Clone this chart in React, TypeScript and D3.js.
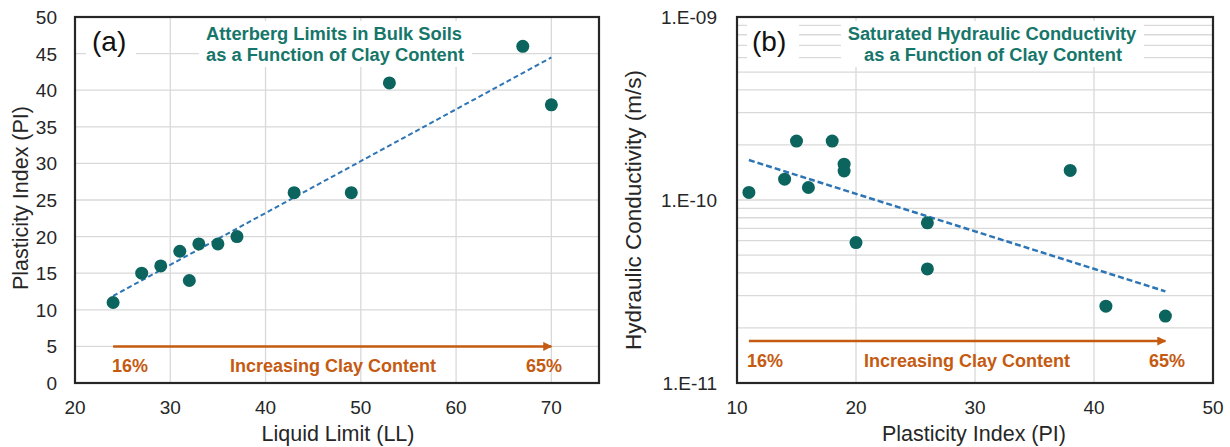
import React from "react";
import * as d3 from "d3";

// panel (a): Atterberg limits
const liquidLimit = [24, 27, 29, 31, 32, 33, 35, 37, 43, 49, 53, 67, 70];
const plasticityA = [11, 15, 16, 18, 14, 19, 19, 20, 26, 26, 41, 46, 38];
const xTicksA = [20, 30, 40, 50, 60, 70];
const yTicksA = [0, 5, 10, 15, 20, 25, 30, 35, 40, 45, 50];

// panel (b): hydraulic conductivity
const plasticityB = [11, 14, 15, 16, 18, 19, 19, 20, 26, 26, 38, 41, 46];
const conductivity = [
  1.1e-10, 1.3e-10, 2.1e-10, 1.17e-10, 2.1e-10, 1.57e-10, 1.44e-10,
  5.85e-11, 7.5e-11, 4.2e-11, 1.45e-10, 2.63e-11, 2.32e-11,
];
const xTicksB = [10, 20, 30, 40, 50];
const yTicksB = [1e-11, 1e-10, 1e-9];
const yTickLabelsB = ["1.E-11", "1.E-10", "1.E-09"];

const clayLow = "16%";
const clayHigh = "65%";

const DOT = "#0b645d";
const TEAL = "#16766a";
const ORANGE = "#c55a11";
const TREND = "#2e75b6";
const GRID = "#d9d9d9";
const FONT = "'Liberation Sans', Arial, sans-serif";

// least squares fit, returns [slope, intercept]
const fit = (xs: number[], ys: number[]) => {
  const mx = d3.mean(xs)!;
  const my = d3.mean(ys)!;
  let sxy = 0, sxx = 0;
  xs.forEach((x, i) => {
    sxy += (x - mx) * (ys[i] - my);
    sxx += (x - mx) * (x - mx);
  });
  const b = sxy / sxx;
  return [b, my - b * mx];
};

const App = () => {
  const xA = d3.scaleLinear().domain([20, 75]).range([75, 599]);
  const yA = d3.scaleLinear().domain([0, 50]).range([383, 17]);
  const xB = d3.scaleLinear().domain([10, 50]).range([737, 1213]);
  const yB = d3.scaleLog().domain([1e-11, 1e-9]).range([383, 17]);

  const [sa, ia] = fit(liquidLimit, plasticityA);
  const xa0 = d3.min(liquidLimit)!, xa1 = d3.max(liquidLimit)!;
  const [sb, ib] = fit(plasticityB, conductivity.map(Math.log10));
  const xb0 = d3.min(plasticityB)!, xb1 = d3.max(plasticityB)!;

  const minorB: number[] = [];
  [1e-11, 1e-10].forEach(d => {
    for (let k = 2; k <= 9; k++) minorB.push(d * k);
  });
  minorB.push(1e-10);

  const tick = { fontFamily: FONT, fontSize: 19, fill: "#262626" };
  const axisT = { fontFamily: FONT, fontSize: 21.5, fill: "#262626" };
  const note = { fontFamily: FONT, fontSize: 18, fontWeight: 700, fill: ORANGE };
  const title = { fontFamily: FONT, fontSize: 18.3, fontWeight: 700, fill: TEAL };
  const panel = { fontFamily: FONT, fontSize: 28, fill: "#111" };

  return (
    <svg width={1230} height={447} style={{ position: "absolute", left: 0, top: 0, background: "#fff" }}>
      <defs>
        <marker id="arr" viewBox="0 0 10 10" refX="9" refY="5" markerWidth="3.6" markerHeight="3.6" orient="auto">
          <path d="M0,0 L10,5 L0,10 z" fill={ORANGE} />
        </marker>
      </defs>

      {/* ---------- panel (a) ---------- */}
      <g>
        {xTicksA.slice(1).map(t => (
          <line key={"gx" + t} x1={xA(t)} x2={xA(t)} y1={yA(50)} y2={yA(0)} stroke={GRID} strokeWidth={1.3} />
        ))}
        {yTicksA.slice(1, -1).map(t => (
          <line key={"gy" + t} x1={xA(20)} x2={xA(75)} y1={yA(t)} y2={yA(t)} stroke={GRID} strokeWidth={1.3} />
        ))}
        <rect x={86} y={24} width={50} height={40} fill="#fff" />
        <rect x={199} y={21} width={273} height={46} fill="#fff" />
        <rect x={xA(20)} y={yA(50)} width={xA(75) - xA(20)} height={yA(0) - yA(50)} fill="none" stroke="#262626" strokeWidth={2.2} />

        <line x1={xA(xa0)} y1={yA(sa * xa0 + ia)} x2={xA(xa1)} y2={yA(sa * xa1 + ia)}
          stroke={TREND} strokeWidth={2} strokeDasharray="5,3" />
        {liquidLimit.map((v, i) => (
          <circle key={"a" + i} cx={xA(v)} cy={yA(plasticityA[i])} r={6.5} fill={DOT} />
        ))}

        <line x1={xA(24)} x2={xA(70)} y1={yA(5)} y2={yA(5)} stroke={ORANGE} strokeWidth={2.5} markerEnd="url(#arr)" />
        <text x={112} y={372} style={note}>{clayLow}</text>
        <text x={230} y={372} style={note}>Increasing Clay Content</text>
        <text x={562} y={372} textAnchor="end" style={note}>{clayHigh}</text>

        <text x={92} y={51} style={panel}>(a)</text>
        <text x={206} y={40} style={title}>Atterberg Limits in Bulk Soils</text>
        <text x={206} y={61} style={title}>as a Function of Clay Content</text>

        {yTicksA.map(t => (
          <text key={"ya" + t} x={57} y={yA(t) + 7} textAnchor="end" style={tick}>{t}</text>
        ))}
        {xTicksA.map(t => (
          <text key={"xa" + t} x={xA(t)} y={414} textAnchor="middle" style={tick}>{t}</text>
        ))}
        <text x={338} y={441} textAnchor="middle" style={axisT}>Liquid Limit (LL)</text>
        <text transform="translate(28,198) rotate(-90)" textAnchor="middle" style={axisT}>
          Plasticity Index (PI)
        </text>
      </g>

      {/* ---------- panel (b) ---------- */}
      <g>
        {xTicksB.slice(1, -1).map(t => (
          <line key={"gx" + t} x1={xB(t)} x2={xB(t)} y1={yB(1e-9)} y2={yB(1e-11)} stroke={GRID} strokeWidth={1.3} />
        ))}
        {minorB.map((t, i) => (
          <line key={"gy" + i} x1={xB(10)} x2={xB(50)} y1={yB(t)} y2={yB(t)} stroke={GRID} strokeWidth={1.3} />
        ))}
        <rect x={747} y={24} width={52} height={40} fill="#fff" />
        <rect x={841} y={21} width={303} height={46} fill="#fff" />
        <rect x={xB(10)} y={yB(1e-9)} width={xB(50) - xB(10)} height={yB(1e-11) - yB(1e-9)} fill="none" stroke="#262626" strokeWidth={2.2} />

        <line x1={xB(xb0)} y1={yB(Math.pow(10, sb * xb0 + ib))} x2={xB(xb1)} y2={yB(Math.pow(10, sb * xb1 + ib))}
          stroke={TREND} strokeWidth={2.5} strokeDasharray="6,3" />
        {plasticityB.map((v, i) => (
          <circle key={"b" + i} cx={xB(v)} cy={yB(conductivity[i])} r={6.5} fill={DOT} />
        ))}

        <line x1={xB(11)} x2={xB(46)} y1={341} y2={341} stroke={ORANGE} strokeWidth={2.5} markerEnd="url(#arr)" />
        <text x={747} y={367} style={note}>{clayLow}</text>
        <text x={864} y={367} style={note}>Increasing Clay Content</text>
        <text x={1185} y={367} textAnchor="end" style={note}>{clayHigh}</text>

        <text x={752} y={51} style={panel}>(b)</text>
        <text x={992} y={40} textAnchor="middle" style={title}>Saturated Hydraulic Conductivity</text>
        <text x={993} y={61} textAnchor="middle" style={title}>as a Function of Clay Content</text>

        {yTicksB.map((t, i) => (
          <text key={"yb" + i} x={717} y={yB(t) + 7} textAnchor="end" style={tick}>{yTickLabelsB[i]}</text>
        ))}
        {xTicksB.map(t => (
          <text key={"xb" + t} x={xB(t)} y={414} textAnchor="middle" style={tick}>{t}</text>
        ))}
        <text x={974} y={441} textAnchor="middle" style={axisT}>Plasticity Index (PI)</text>
        <text transform="translate(641,210) rotate(-90)" textAnchor="middle" style={{ ...axisT, fontSize: 22.5 }}>
          Hydraulic Conductivity (m/s)
        </text>
      </g>
    </svg>
  );
};

export default App;
